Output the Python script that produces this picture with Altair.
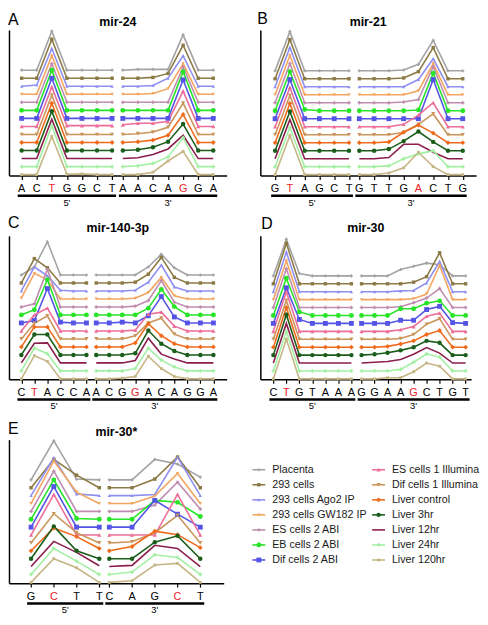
import altair as alt
import pandas as pd

FONT = "Liberation Sans"
RED = "#e8232a"

SERIES = ["Placenta", "293 cells", "293 cells Ago2 IP", "293 cells GW182 IP",
          "ES cells 2 ABI", "EB cells 2 ABI", "Dif cells 2 ABI",
          "ES cells 1 Illumina", "Dif cells 1 Illumina", "Liver control",
          "Liver 3hr", "Liver 12hr", "Liver 24hr", "Liver 120hr"]
COLORS = ["#a3a3a3", "#8c7a45", "#8f8ff2", "#f4a660", "#c08cb0", "#27e427", "#5454e6",
          "#ec6e99", "#c9955a", "#f06a1c", "#1b5e1b", "#8b1d4d", "#a3f0a3", "#c6b585"]
SHAPES = ["cross", "square", "triangle-up", "triangle-down", "cross", "circle", "square",
          "triangle-up", "triangle-down", "diamond", "circle", "circle", "cross", "square"]
SIZES = [10, 12, 12, 12, 12, 24, 24, 18, 18, 24, 20, 0, 14, 8]

# ---- mir-24 ----
MIR24_5P = ["A", "C", "T", "G", "G", "C", "T"]
MIR24_3P = ["A", "A", "C", "A", "G", "G", "A"]
MIR24_RED = (2, 4)
MIR24 = [
    [0, 0, 4.85, 0, 0, 0, 0, 0, 0.1, 0.1, 0.1, 4.4, 0, 0],
    [0, 0, 4.85, 0, 0, 0, 0, 0, 0, 0.1, 0.6, 4.1, 0, 0],
    [0, 0.15, 4.7, 0, 0, 0, 0, 0, 0, 0.1, 1.0, 3.8, 0, 0],
    [0, 0, 4.8, 0, 0, 0, 0, 0, 0, 0.1, 0.7, 3.8, 0, 0],
    [0, 0, 4.8, 0, 0, 0, 0, 0, 0, 0, 0, 4.4, 0, 0],
    [0, 0, 5.0, 0, 0, 0, 0, 0, 0, 0, 0, 4.8, 0, 0],
    [0, 0, 5.0, 0, 0, 0, 0, 0, 0, 0, 0, 4.8, 0, 0],
    [0, 0, 4.9, 0.1, 0.1, 0.1, 0.1, 0.2, 0.4, 0.4, 0.6, 4.4, 0, 0],
    [0, 0, 4.9, 0, 0, 0, 0, 0, 0.1, 0.3, 0.9, 3.9, 0, 0],
    [0, 0, 4.9, 0, 0, 0, 0, 0, 0.1, 0.3, 0.9, 3.5, 0, 0],
    [0, 0, 4.9, 0, 0, 0, 0, 0, 0.1, 0.4, 1.1, 3.3, 0, 0],
    [0, 0, 4.9, 0, 0, 0, 0, 0, 0.1, 0.5, 1.2, 2.9, 0, 0],
    [0, 0, 5.1, 0, 0, 0, 0, 0, 0.1, 0.4, 1.2, 3.6, 0, 0],
    [0, 0, 4.75, 0.05, 0.1, 0, 0, 0, 0, 0.3, 1.7, 2.9, 0, 0],
]

# ---- mir-21 ----
MIR21_5P = ["G", "T", "A", "G", "C", "T"]
MIR21_3P = ["G", "T", "T", "G", "A", "C", "T", "G"]
MIR21_RED = (1, 4)
MIR21 = [
    [0, 4.9, 0, 0, 0, 0, 0, 0, 0, 0.1, 0.8, 3.8, 0, 0],
    [0, 4.9, 0, 0, 0, 0, 0, 0, 0, 0.1, 0.9, 3.9, 0, 0],
    [0, 4.9, 0, 0, 0, 0, 0, 0, 0, 0, 0.9, 3.5, 0, 0],
    [0, 4.9, 0, 0, 0, 0, 0, 0, 0, 0, 0.5, 3.9, 0, 0],
    [0, 4.9, 0, 0, 0, 0, 0, 0, 0, 0.1, 0.4, 4.5, 0, 0],
    [0, 4.9, 0.15, 0, 0, 0, 0, 0, 0, 0, 0.1, 4.7, 0, 0],
    [0, 4.9, 0, 0, 0, 0, 0, 0, 0, 0, 0, 4.9, 0, 0],
    [0, 4.9, 0, 0, 0, 0, 0, 0, 0, 0.3, 1.45, 3.0, 0, 0],
    [0, 4.9, 0, 0, 0, 0, 0, 0, 0, 0.3, 1.3, 2.6, 0, 0],
    [0, 4.9, 0, 0, 0, 0, 0, 0, 0.1, 1.3, 2.2, 1.2, 0, 0],
    [0, 4.9, 0, 0, 0, 0, 0, 0, 0.2, 1.2, 2.4, 1.1, 0, 0],
    [0, 4.9, 0, 0, 0, 0, 0, 0, 0.15, 1.8, 1.8, 0.8, 0, 0],
    [0, 4.9, 0, 0, 0, 0, 0, 0, 0.1, 1.0, 1.6, 2.0, 0, 0],
    [0, 4.9, 0, 0, 0, 0, 0, 0, 0.2, 0.85, 2.8, 1.0, 0, 0],
]

# ---- mir-140-3p ----
MIR140_5P = ["C", "T", "A", "C", "C", "A"]
MIR140_3P = ["A", "C", "G", "G", "A", "C", "A", "G", "G", "A"]
MIR140_RED = (1, 3)
MIR140 = [
    [0, 1.0, 4.15, 0, 0, 0, 0, 0, 0, 0, 1.0, 2.6, 0.9, 0, 0, 0],
    [0, 3.05, 1.9, 0, 0, 0, 0, 0, 0, 0.1, 1.1, 3.2, 0.7, 0, 0, 0],
    [0, 3.0, 1.9, 0.1, 0, 0, 0, 0, 0, 0.1, 1.1, 3.25, 0.5, 0, 0, 0],
    [0.1, 3.2, 2.4, 0, 0, 0, 0, 0, 0, 0.1, 0.8, 2.7, 0.4, 0, 0, 0],
    [0, 0.4, 4.7, 0, 0, 0, 0, 0, 0, 0.1, 0.8, 3.3, 0.6, 0, 0, 0],
    [0, 0.65, 4.4, 0, 0, 0, 0, 0, 0, 0, 0.85, 3.2, 1.05, 0, 0, 0],
    [0, 0.3, 4.3, 0.1, 0, 0, 0, 0, 0.1, 0, 0.9, 3.3, 0.75, 0, 0, 0],
    [0, 2.0, 2.85, 0, 0, 0, 0, 0, 0, 0.1, 2.1, 2.35, 0.6, 0, 0, 0],
    [0, 1.95, 2.9, 0, 0, 0, 0, 0, 0, 0.4, 2.0, 2.6, 0.6, 0, 0, 0],
    [0, 2.5, 2.5, 0, 0, 0, 0, 0, 0, 0.5, 2.9, 1.4, 0.4, 0, 0, 0],
    [0, 2.55, 2.55, 0, 0, 0, 0, 0, 0, 0.2, 3.05, 1.4, 0.5, 0, 0, 0],
    [0, 2.45, 2.5, 0, 0, 0, 0, 0, 0, 0.3, 3.1, 1.1, 0.5, 0, 0, 0],
    [0, 2.85, 2.15, 0, 0, 0, 0, 0, 0, 0.3, 2.85, 1.35, 0.5, 0, 0, 0],
    [0, 2.9, 2.2, 0, 0, 0, 0, 0, 0.1, 0.3, 2.85, 1.3, 0.3, 0, 0, 0],
]

# ---- mir-30 ----
MIR30_5P = ["C", "T", "G", "T", "A", "A", "A"]
MIR30_3P = ["G", "G", "A", "A", "G", "C", "T", "G", "T"]
MIR30_RED = (1, 4)
MIR30 = [
    [0, 4.6, 0.3, 0, 0, 0, 0, 0, 0, 0, 0.8, 1.2, 1.6, 1.4, 0, 0],
    [0, 5.1, 0, 0, 0, 0, 0, 0, 0, 0, 0, 0.2, 0.9, 3.9, 0, 0],
    [0, 5.0, 0, 0, 0, 0, 0, 0, 0, 0, 0.1, 0.15, 1.1, 3.8, 0, 0],
    [0, 4.9, 0, 0, 0, 0, 0, 0, 0, 0, 0, 0.1, 0.7, 4.3, 0, 0],
    [0, 4.9, 0, 0, 0, 0, 0, 0, 0, 0, 0.1, 0.6, 1.2, 2.4, 0, 0],
    [0, 4.7, 0.45, 0, 0, 0, 0, 0, 0, 0, 0.85, 0.85, 1.55, 1.85, 0, 0],
    [0, 4.5, 0.5, 0, 0, 0, 0, 0, 0, 0, 0.4, 0.4, 1.75, 2.15, 0.1, 0],
    [0, 5.0, 0, 0, 0, 0, 0, 0, 0, 0, 0.2, 0.6, 1.9, 2.3, 0, 0],
    [0, 4.9, 0, 0, 0, 0, 0, 0, 0, 0, 0.1, 0.6, 1.9, 2.6, 0, 0],
    [0, 5.0, 0, 0, 0, 0, 0, 0, 0, 0.1, 0.4, 0.8, 1.6, 2.1, 0, 0],
    [0, 5.1, 0, 0, 0, 0, 0, 0, 0.1, 0.3, 0.6, 1.0, 1.8, 1.55, 0, 0],
    [0, 5.0, 0, 0, 0, 0, 0, 0, 0.1, 0.2, 0.45, 1.1, 1.95, 1.25, 0, 0],
    [0, 5.0, 0, 0, 0, 0, 0, 0, 0, 0, 0.2, 1.1, 2.15, 1.75, 0, 0],
    [0, 5.0, 0, 0, 0, 0, 0, 0, 0, 0.15, 0.15, 0.9, 2.0, 1.6, 0, 0],
]

# ---- mir-30* ----
MIR30S_5P = ["G", "C", "T", "T"]
MIR30S_3P = ["C", "A", "G", "C", "T"]
MIR30S_RED = (1, 3)
MIR30S = [
    [0, 4.95, 0.1, 0, 0, 0, 2.6, 2.0, 0.35],
    [0, 3.6, 1.6, 0, 0, 0, 1.1, 3.9, 0],
    [0, 4.8, 0.2, 0, 0, 0, 0.15, 4.9, 0],
    [0, 5.4, 1.45, 0, 0, 0, 0.95, 3.8, 0],
    [0, 5.1, 0, 0, 0, 0, 0.8, 3.7, 0.3],
    [0, 5.0, 0.1, 0, 0, 0, 2.4, 2.15, 0.35],
    [0, 5.15, 0, 0, 0, 0, 3.4, 1.65, 0],
    [0, 5.15, 0, 0, 0, 0, 0, 5.15, 0],
    [0, 3.7, 1.3, 0, 0, 0.15, 1.3, 3.5, 0],
    [0, 2.9, 1.8, 0.3, 0, 0.55, 2.5, 2.05, 0.4],
    [0, 4.1, 1.0, 0, 0, 0, 2.1, 2.9, 0],
    [0, 3.2, 1.8, 0.1, 0, 0.15, 2.7, 2.3, 0],
    [0, 3.3, 1.7, 0, 0, 0.3, 2.5, 2.15, 0],
    [0, 3.0, 1.85, 0, 0, 0.2, 2.2, 2.4, 0],
]

# layout (positions / sizes only)
LAY = {
    "A": dict(width=220, height=147, gap=0.71, xlo=-0.84, xhi=13.6, ylo=-0.1, yhi=18.0, lx=-1, ly=-5),
    "B": dict(width=218, height=147, gap=0.70, xlo=-1.0, xhi=13.6, ylo=-0.1, yhi=18.1, lx=-3, ly=-6),
    "C": dict(width=220, height=145, gap=0.75, xlo=-0.95, xhi=15.77, ylo=-0.05, yhi=17.9, lx=-1, ly=-8),
    "D": dict(width=213, height=145, gap=0.78, xlo=-1.0, xhi=15.2, ylo=-0.05, yhi=18.05, lx=1, ly=-7),
    "E": dict(width=217, height=145, gap=0.44, xlo=-0.97, xhi=8.47, ylo=-0.1, yhi=18.1, lx=-1, ly=-6),
}


def panel(letter, title, five, three, red, values, lay):
    n = len(SERIES)
    pos5 = [float(i) for i in range(len(five))]
    pos3 = [round(len(five) - 1 + lay["gap"] + j, 3) for j in range(len(three))]
    pos = pos5 + pos3
    rows = []
    for i, s in enumerate(SERIES):
        off = n - 1 - i
        for k, x in enumerate(pos):
            rows.append(dict(series=s, seg="5" if k < len(five) else "3", x=x,
                             y=off + values[i][k], sz=SIZES[i]))
    df = pd.DataFrame(rows)

    W, H = lay["width"], lay["height"]
    xscale = alt.Scale(domain=[lay["xlo"], lay["xhi"]], nice=False, zero=False)
    xaxis = alt.Axis(values=pos, labels=False, title=None, grid=False, tickSize=4,
                     tickWidth=1.2, tickColor="black", domainColor="black", domainWidth=1.5)

    def X(f):
        return alt.X(f, type="quantitative", scale=xscale, axis=xaxis)

    Y = alt.Y("y:Q", scale=alt.Scale(domain=[lay["ylo"], lay["yhi"]], nice=False, zero=False),
              axis=alt.Axis(labels=False, ticks=False, title=None, grid=False,
                            domainColor="black", domainWidth=1.5))
    color = alt.Color("series:N", scale=alt.Scale(domain=SERIES, range=COLORS), legend=None)
    shape = alt.Shape("series:N", scale=alt.Scale(domain=SERIES, range=SHAPES), legend=None)

    lines = alt.Chart(df).mark_line(strokeWidth=1.6).encode(
        x=X("x"), y=Y, color=color, detail="seg:N")
    pts = alt.Chart(df).mark_point(filled=True, opacity=1).encode(
        x=X("x"), y=Y, color=color, shape=shape, size=alt.Size("sz:Q", scale=None))

    lets = pd.DataFrame(dict(
        x=pos, letter=five + three,
        red=[k == red[0] for k in range(len(five))] + [k == red[1] for k in range(len(three))]))
    letters = alt.Chart(lets).mark_text(fontSize=11, baseline="top", font=FONT).encode(
        x=X("x"), y=alt.value(H + 8), text="letter:N",
        color=alt.condition("datum.red", alt.value(RED), alt.value("black")))

    ext = 4.0 * (lay["xhi"] - lay["xlo"]) / W
    grp = pd.DataFrame(dict(
        x0=[pos5[0] - ext, pos3[0] - ext], x1=[pos5[-1] + ext, pos3[-1] + ext],
        xm=[(pos5[0] + pos5[-1]) / 2, (pos3[0] + pos3[-1]) / 2], lab=["5'", "3'"]))
    bars = alt.Chart(grp).mark_rule(strokeWidth=2.5, color="black").encode(
        x=X("x0"), x2="x1:Q", y=alt.value(H + 20.5))
    glab = alt.Chart(grp).mark_text(fontSize=9.5, baseline="top", font=FONT, color="black").encode(
        x=X("xm"), y=alt.value(H + 22.5), text="lab:N")

    head = pd.DataFrame(dict(t=[letter], title=[title]))
    let = alt.Chart(head).mark_text(fontSize=16, align="left", baseline="alphabetic",
                                    font=FONT, color="black").encode(
        x=alt.value(lay["lx"]), y=alt.value(lay["ly"]), text="t:N")
    ttl = alt.Chart(head).mark_text(fontSize=12.5, fontWeight="bold", align="center",
                                    baseline="alphabetic", font=FONT, color="black").encode(
        x=alt.value(W / 2), y=alt.value(-4), text="title:N")

    return alt.layer(lines, pts, letters, bars, glab, let, ttl).properties(width=W, height=H)


A = panel("A", "mir-24", MIR24_5P, MIR24_3P, MIR24_RED, MIR24, LAY["A"])
B = panel("B", "mir-21", MIR21_5P, MIR21_3P, MIR21_RED, MIR21, LAY["B"])
C = panel("C", "mir-140-3p", MIR140_5P, MIR140_3P, MIR140_RED, MIR140, LAY["C"])
D = panel("D", "mir-30", MIR30_5P, MIR30_3P, MIR30_RED, MIR30, LAY["D"])
E = panel("E", "mir-30*", MIR30S_5P, MIR30S_3P, MIR30S_RED, MIR30S, LAY["E"])

# legend
LW, LH = 218, 145
ROWPX = 15.2
SHIFT = 8
COLX = [0, 121]
leg_rows = []
for k, s in enumerate(SERIES):
    c, r = k // 7, k % 7
    x0 = COLX[c]
    leg_rows.append(dict(series=s, row=r, x0=x0, x1=x0 + 13, xm=x0 + 6.5, xt=x0 + 20, sz=SIZES[k]))
ldf = pd.DataFrame(leg_rows)
lx = alt.Scale(domain=[SHIFT, LW + SHIFT], nice=False, zero=False)
ly = alt.Scale(domain=[-2.0, LH / ROWPX - 2.0], nice=False, zero=False, reverse=True)
lcolor = alt.Color("series:N", scale=alt.Scale(domain=SERIES, range=COLORS), legend=None)
lshape = alt.Shape("series:N", scale=alt.Scale(domain=SERIES, range=SHAPES), legend=None)
leg_line = alt.Chart(ldf).mark_rule(strokeWidth=1.6).encode(
    x=alt.X("x0:Q", scale=lx, axis=None), x2="x1:Q",
    y=alt.Y("row:Q", scale=ly, axis=None), color=lcolor)
leg_pt = alt.Chart(ldf).mark_point(filled=True, opacity=1).encode(
    x=alt.X("xm:Q", scale=lx, axis=None), y=alt.Y("row:Q", scale=ly, axis=None),
    color=lcolor, shape=lshape, size=alt.Size("sz:Q", scale=None))
leg_txt = alt.Chart(ldf).mark_text(fontSize=10.8, align="left", baseline="middle",
                                   font=FONT, color="#1a1a1a").encode(
    x=alt.X("xt:Q", scale=lx, axis=None), y=alt.Y("row:Q", scale=ly, axis=None),
    text="series:N")
LEG = alt.layer(leg_line, leg_pt, leg_txt).properties(width=LW, height=LH)

chart = alt.concat(A, B, C, D, E, LEG, columns=2, align="each", bounds="flush",
                   spacing={"row": 61, "column": 34}).properties(
    padding=0).configure_view(stroke=None)

chart.save("out.html", embed_options={"renderer": "svg", "actions": False})
